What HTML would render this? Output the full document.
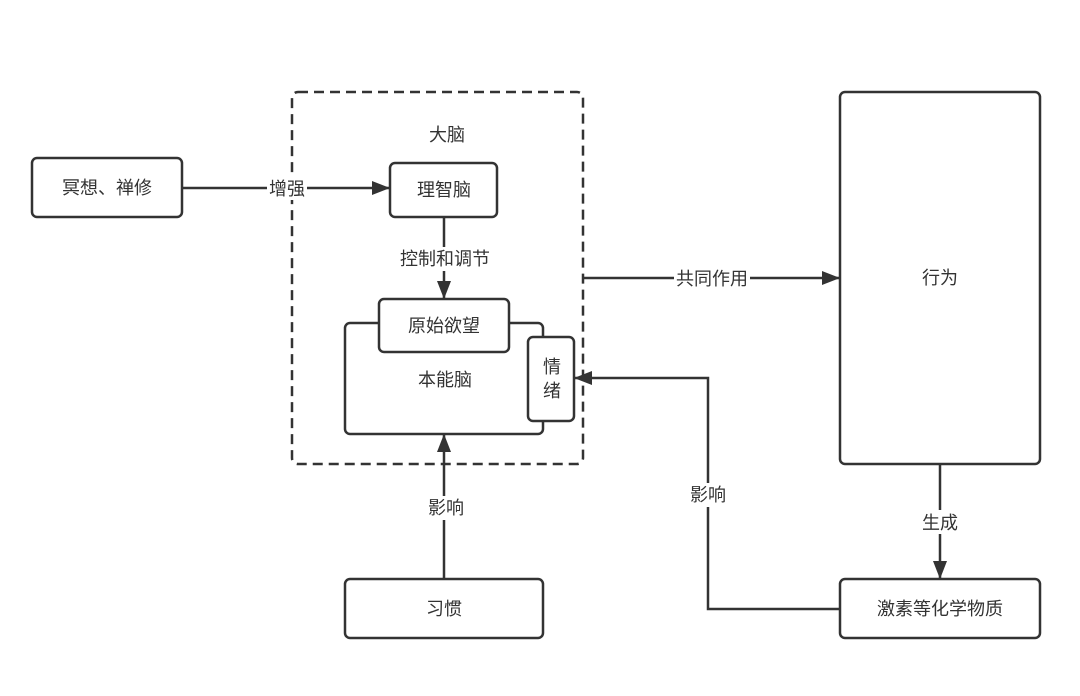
<!DOCTYPE html>
<html><head><meta charset="utf-8"><style>
body{margin:0;background:#fff}
text{font-family:"Liberation Sans","Noto Sans CJK SC",sans-serif;font-size:18px;fill:#333;text-anchor:middle;dominant-baseline:central}
</style></head><body>
<svg width="1080" height="691" viewBox="0 0 1080 691" xmlns="http://www.w3.org/2000/svg">
<defs><marker id="b" markerWidth="18" markerHeight="14" refX="18" refY="7" orient="auto" markerUnits="userSpaceOnUse"><path d="M0,0 L18,7 L0,14z" fill="#333"/></marker></defs>
<g fill="#fff" stroke="#333" stroke-width="2.5">
<rect x="292" y="92" width="291" height="372" rx="6" stroke-dasharray="10,6"/>
<rect x="32" y="158" width="150" height="59" rx="5"/>
<rect x="390" y="163" width="107" height="54" rx="5"/>
<rect x="345" y="323" width="198" height="111" rx="5"/>
<rect x="379" y="299" width="130" height="53" rx="5"/>
<rect x="528" y="337" width="46" height="84" rx="5"/>
<rect x="840" y="92" width="200" height="372" rx="5"/>
<rect x="840" y="579" width="200" height="59" rx="5"/>
<rect x="345" y="579" width="198" height="59" rx="5"/>
</g>
<g stroke="#333" stroke-width="2.5" fill="none">
<line x1="182" y1="188" x2="390" y2="188" marker-end="url(#b)"/>
<line x1="444" y1="217" x2="444" y2="299" marker-end="url(#b)"/>
<line x1="583" y1="278" x2="840" y2="278" marker-end="url(#b)"/>
<line x1="444" y1="579" x2="444" y2="434" marker-end="url(#b)"/>
<line x1="940" y1="464" x2="940" y2="579" marker-end="url(#b)"/>
<polyline points="840,609 708,609 708,378 574,378" marker-end="url(#b)"/>
</g>
<g fill="#fff">
<rect x="267" y="176" width="40" height="24"/>
<rect x="398" y="247" width="94" height="24"/>
<rect x="674" y="266" width="76" height="24"/>
<rect x="426" y="496" width="38" height="24"/>
<rect x="689" y="483" width="38" height="24"/>
<rect x="921" y="510" width="38" height="24"/>
</g>
<text x="287" y="189">增强</text>
<text x="445" y="259">控制和调节</text>
<text x="712" y="279">共同作用</text>
<text x="446" y="508">影响</text>
<text x="708" y="495">影响</text>
<text x="940" y="523">生成</text>
<text x="107" y="188">冥想、禅修</text>
<text x="447" y="135">大脑</text>
<text x="444" y="190">理智脑</text>
<text x="444" y="326">原始欲望</text>
<text x="445" y="380">本能脑</text>
<text x="552" y="367">情</text>
<text x="552" y="391">绪</text>
<text x="940" y="278">行为</text>
<text x="940" y="609">激素等化学物质</text>
<text x="444" y="609">习惯</text>
</svg>
</body></html>
